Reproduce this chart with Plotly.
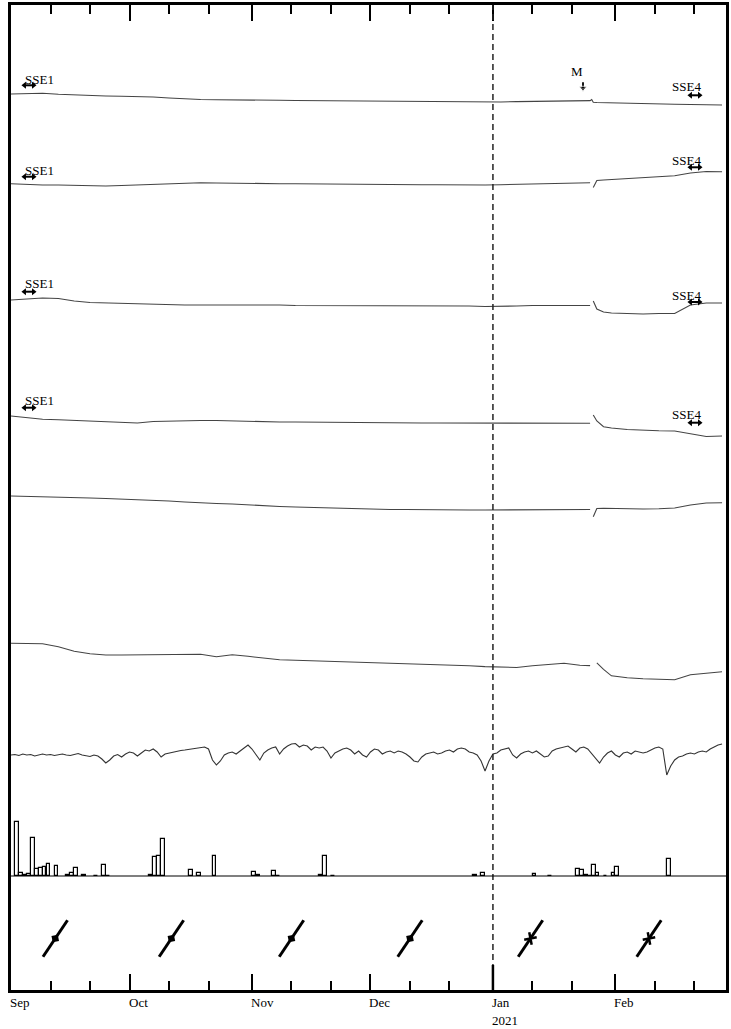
import math
import pandas as pd
import plotly.graph_objects as go

start = pd.Timestamp("2020-09-01")

# days since 1 Sep 2020 for the slowly varying records
days = [0, 4, 8, 12, 16, 20, 24, 28, 32, 36, 40, 44, 48, 52, 56, 60, 64, 68, 72, 76,
        80, 84, 88, 92, 96, 100, 104, 108, 112, 116, 120, 124, 128, 132, 136, 140, 144,
        146.6, 147.0, 147.4, 148.3, 150, 152, 156, 160, 164, 168, 172, 176, 180]

rec1 = [0, 0.2, 0.7, -0.3, -1, -1.5, -2, -2.3, -2.5, -3, -4, -5, -5.5, -5.7, -5.7, -5.9, -6.2, -6.3, -6.5, -6.6,
        -6.8, -7, -7.2, -7.3, -7.5, -7.6, -7.8, -8, -8.1, -8.2, -8.2, -8, -7.6, -7.3, -7, -6.8, -6.7,
        -6.6, -5.5, -8.3, -8.5, -8.7, -8.8, -9.2, -9.6, -10, -10.3, -10.5, -11, -11]
rec2 = [0.3, -0.5, -1, -1, -1.3, -1.7, -2, -1.5, -1, 0, 0.7, 1.2, 1.3, 1, 1, 0.8, 0.5, 0.3, 0.2, 0,
        0, -0.2, -0.3, -0.5, -0.6, -0.7, -0.8, -0.8, -1, -1, -1, -0.7, -0.3, 0, 0.5, 1, 1.3,
        1.2, None, -3.5, 3.5, 4, 4.5, 5.5, 6.3, 7, 8.3, 11, 12.5, 12.3]
rec3 = [0, 1, 2, 1.5, -1, -2.5, -3, -3.5, -4, -4.5, -5, -5, -5, -5, -5, -5.2, -4.5, -5, -5.5, -5.5,
        -5.5, -6, -6, -6, -6, -6, -5.5, -5.5, -6, -6, -6.5, -6.5, -6, -5.5, -5.5, -5.5, -5.5,
        -5.5, None, -1, -9, -12, -13, -13.5, -14, -13.5, -13.5, -5, -3, -3]
rec4 = [0, -2, -3.3, -3.8, -4.5, -5.5, -6.3, -7, -7, -5.5, -5, -4.5, -4.5, -4.5, -5, -5.5, -5.7, -6, -6, -6.2,
        -6.3, -6.5, -6.5, -6.7, -6.8, -7, -7, -7, -7, -7, -7, -7, -7, -6.8, -6.7, -7, -7.2,
        -7.3, None, 1, -5, -10.7, -12, -13.5, -14.5, -14.8, -15, -18, -20.5, -20]
rec5 = [0, -0.3, -0.5, -1, -1.2, -2, -2.5, -3, -3.5, -4, -5, -6, -7, -7.5, -8, -9, -10, -10.5, -11, -11.5,
        -12, -12.5, -13, -13, -13.5, -13.5, -13.8, -14, -14, -14, -14, -14, -14, -14, -14, -13.7, -13.5,
        -13.5, None, -20.7, -12.5, -12.3, -12.5, -12.8, -13, -12.8, -12, -9, -7, -6.7]
rec6 = [0, -0.5, -0.5, -3.5, -8, -10.5, -11.7, -11.7, -11.5, -11.5, -11, -11, -11, -13.5, -11.5, -13, -14.5, -16.5, -17, -17.5,
        -18, -18.5, -18.5, -19, -20, -20.5, -21, -21.5, -21.7, -22.5, -23.3, -23.7, -24.2, -22.5, -21, -20, -22,
        -22.3, None, None, -19.5, -26, -32.5, -34.5, -35.5, -36, -36.5, -31.5, -30, -28.5]

# daily record with tidal-like fluctuations (day 0 .. 180)
rec7 = [2, 2.5, 1.5, 3, 2, 2.5, 1, 2, 3, 2,
        2.5, 1.5, 2, 3, 2, 1.5, 2.5, 3.5, 2, 1,
        0.5, 2, 1, -2, -6, -3, 1, 2.5, 0, 3,
        5, 4, 1, 4, 7, 6, 8, 5, 0, 3,
        4, 5, 6, 6.5, 7, 7.5, 8, 9, 9.5, 10,
        8, -3, -8, -4, 2, 4, 5, 3, 6, 9,
        12, 8, 2, -3, 4, 7, 9, 10, 3, 8,
        11, 13, 13.5, 10, 12, 11, 7, 10, 9, 10,
        6, -1, 4, 6, 8, 9, 7, 3, 6, 2,
        0, 5, 8, 7, 3, 5, 6, 4, 6, 5,
        3, 0, -4, -5, 0, 3, 4, 5, 3, 4,
        6, 7, 5, 8, 9, 8, 5, 4, 2, -4,
        -14, -4, 3, 4, 7, 8, 9, 2, -1, 3,
        5, 6, 4, 6, 3, 0, 1, 6, 8, 9,
        10, 11, 8, 5, 9, 10, 8, 3, -2, -6,
        0, 4, 6, 2, 0, 4, 5, 3, 6, 5,
        4, 5, 7, 9, 10, 8, -18, -9, -3, 0,
        1, 3, 4, 3, 5, 6, 5, 8, 10, 12,
        13]

# daily rainfall
rain_days = [1, 2, 3, 4, 5, 6, 7, 8, 9, 11, 14, 15, 16, 18, 21, 23, 24,
             35, 36, 37, 38, 45, 47, 51, 61, 62, 66, 67, 78, 79, 81,
             117, 119, 132, 136, 143, 144, 145, 146, 147, 148, 150, 152, 153, 166]
rain = [54, 3, 1, 2, 38, 7, 8, 9, 12, 10, 1, 3, 8, 1, 0.5, 11, 0.5,
        1, 19, 20, 37, 6, 3, 20, 4, 1.5, 5, 0.5, 1, 20, 0.5,
        1, 3.5, 2, 0.5, 7.5, 6, 1, 0.5, 11, 3, 0.5, 3.5, 9.5, 17]

# monthly tilt vectors
tilt_days = [11.2, 40.6, 71, 101, 131.5, 161.5]
tilt_azimuth = [34, 34, 34, 34, 34, 34]
tilt_size = [44, 44, 44, 44, 44, 44]

month_labels = ["Sep", "Oct", "Nov", "Dec", "Jan", "Feb"]
month_starts = ["2020-09-01", "2020-10-01", "2020-11-01", "2020-12-01", "2021-01-01", "2021-02-01"]

# layout of the stacked panels (vertical offset of each record)
offsets = [896, 806, 690, 574, 494, 346.7]
offset7 = 233
rain_base = 114
tilt_y = 51.5
px_per_day = 718 / 181


def to_date(d):
    return start + pd.to_timedelta(d, unit="D")


t = [to_date(d) for d in days]
fig = go.Figure()

for rec, off in zip([rec1, rec2, rec3, rec4, rec5, rec6], offsets):
    fig.add_trace(go.Scatter(x=t, y=[None if v is None else v + off for v in rec],
                             mode="lines", line=dict(color="#444", width=1.1),
                             connectgaps=False, showlegend=False))

t7 = [to_date(d) for d in range(len(rec7))]
fig.add_trace(go.Scatter(x=t7, y=[v + offset7 for v in rec7], mode="lines",
                         line=dict(color="#333", width=1.1), showlegend=False))

fig.add_trace(go.Bar(x=[to_date(d + 0.5) for d in rain_days], y=rain, base=rain_base,
                     width=86400000 * 0.95, marker=dict(color="white", line=dict(color="black", width=1.2)),
                     showlegend=False))

for i, (d, az, s) in enumerate(zip(tilt_days, tilt_azimuth, tilt_size)):
    dx = s / 2 * math.sin(math.radians(az)) / px_per_day
    dy = s / 2 * math.cos(math.radians(az))
    fig.add_trace(go.Scatter(x=[to_date(d - dx), to_date(d + dx)], y=[tilt_y - dy, tilt_y + dy],
                             mode="lines", line=dict(color="black", width=3), showlegend=False))
    if i < 4:
        mk = dict(symbol="diamond", size=7, angle=az, color="black")
    else:
        mk = dict(symbol="x-thin-open", size=9, angle=az, color="black", line=dict(color="black", width=2.5))
    fig.add_trace(go.Scatter(x=[to_date(d)], y=[tilt_y], mode="markers", marker=mk, showlegend=False))


def double_arrow(d0, d1, y):
    # short horizontal bar with a small head at each end
    fig.add_trace(go.Scatter(x=[to_date(d0), to_date(d1)], y=[y, y], mode="lines+markers",
                             line=dict(color="black", width=2),
                             marker=dict(symbol=["triangle-left", "triangle-right"], size=6, color="black"),
                             showlegend=False))


font = dict(family="Liberation Serif", size=13, color="black")
ann = []
for lab, ms in zip(month_labels, month_starts):
    ann.append(dict(x=ms, y=0, xref="x", yref="paper", text=lab, showarrow=False,
                    xanchor="left", yanchor="middle", xshift=-3, yshift=-12, font=font))
ann.append(dict(x="2021-01-01", y=0, xref="x", yref="paper", text="2021", showarrow=False,
                xanchor="left", yanchor="middle", xshift=-3, yshift=-30, font=font))

sse1_text = [911, 820, 707, 590]
sse1_arrow = [904.7, 813.3, 698.3, 582.3]
sse4_text = [903.3, 830, 695, 576]
sse4_arrow = [894.7, 822.7, 688, 567.3]
for yt, ya in zip(sse1_text, sse1_arrow):
    ann.append(dict(x=to_date(3.0), y=yt, text="SSE1", showarrow=False, xanchor="left", font=font))
    double_arrow(3.4, 5.7, ya)
for yt, ya in zip(sse4_text, sse4_arrow):
    ann.append(dict(x=to_date(175.1), y=yt, text="SSE4", showarrow=False, xanchor="right", font=font))
    double_arrow(172.0, 174.3, ya)

ann.append(dict(x=to_date(143.3), y=919, text="M", showarrow=False, font=font))
fig.add_trace(go.Scatter(x=[to_date(144.8), to_date(144.8)], y=[908, 902], mode="lines+markers",
                         line=dict(color="black", width=1.8),
                         marker=dict(symbol=["line-ew", "triangle-down"], size=[1, 7], color="black"),
                         showlegend=False))

minor_vals = []
for ms in month_starts:
    m = pd.Timestamp(ms)
    minor_vals += [m + pd.Timedelta(days=10), m + pd.Timedelta(days=20)]

fig.update_layout(
    width=731, height=1029, margin=dict(l=11, r=2, t=5, b=39),
    paper_bgcolor="white", plot_bgcolor="white", annotations=ann, bargap=0,
    shapes=[
        dict(type="line", xref="x", yref="paper", x0="2021-01-01", x1="2021-01-01", y0=0, y1=1,
             line=dict(color="#222", width=1.5, dash="6px,4px")),
        dict(type="line", xref="x", yref="paper", x0="2021-01-01", x1="2021-01-01", y0=0, y1=25 / 985,
             line=dict(color="black", width=2.5)),
        dict(type="line", xref="paper", yref="y", x0=0, x1=1, y0=rain_base, y1=rain_base,
             line=dict(color="black", width=1.2)),
    ],
)
fig.update_xaxes(type="date", range=["2020-09-01", "2021-03-01"], showgrid=False, zeroline=False,
                 showline=True, linecolor="black", linewidth=2.5, mirror="ticks",
                 ticks="inside", tickvals=month_starts, ticklen=16, tickwidth=2, tickcolor="black",
                 showticklabels=False,
                 minor=dict(tickvals=minor_vals, ticks="inside", ticklen=9, tickwidth=2, tickcolor="black"))
fig.update_yaxes(range=[0, 985], showgrid=False, zeroline=False, showticklabels=False,
                 showline=True, linecolor="black", linewidth=2.5, mirror=True, ticks="")

fig.write_html("out.html", config={"displayModeBar": False},
               post_script="document.body.style.margin='0px';")
